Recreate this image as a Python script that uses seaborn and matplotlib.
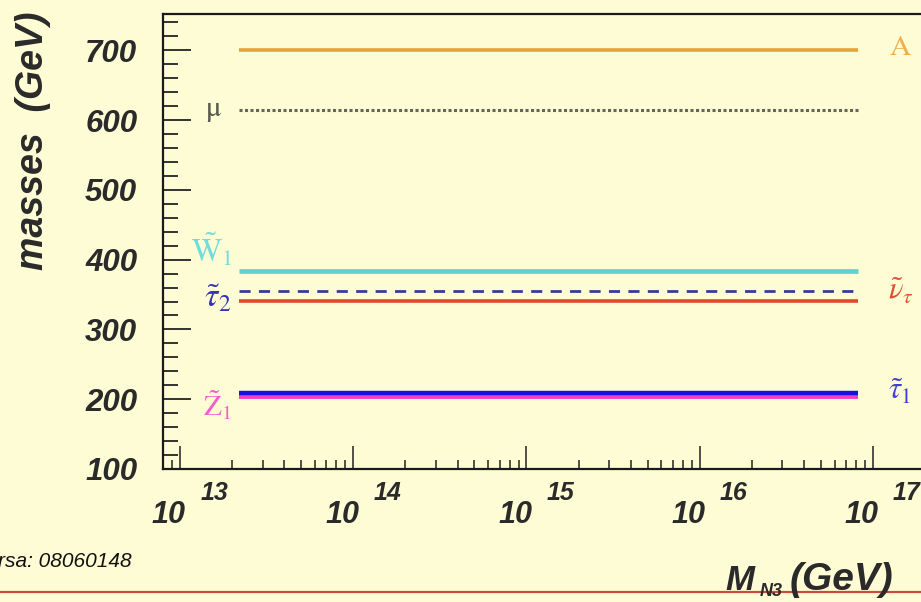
import numpy as np
import pandas as pd
import matplotlib
matplotlib.use("Agg")
import matplotlib.pyplot as plt
import seaborn as sns
from matplotlib.ticker import MultipleLocator, LogLocator, NullFormatter
from matplotlib.lines import Line2D

# ---------------- data ----------------
m_n3 = [2.2e13, 1e14, 1e15, 1e16, 8.2e16]          # M_N3 (GeV)
mass_A = [700, 700, 700, 700, 700]
mass_mu = [614, 614, 614, 614, 614]
mass_W1 = [384, 384, 384, 384, 384]
mass_tau2 = [355, 355, 355, 355, 355]
mass_nutau = [341, 341, 341, 341, 341]
mass_Z1 = [204, 204, 204, 204, 204]
mass_tau1 = [209, 209, 209, 209, 209]
x_decades = [13, 14, 15, 16, 17]
y_ticks = [100, 200, 300, 400, 500, 600, 700]

DPI = 100
W, H = 921, 602
BG = "#fefcd4"

sns.set_theme(style="ticks")
plt.rcParams["mathtext.fontset"] = "stix"
plt.rcParams["font.family"] = ["Liberation Sans", "DejaVu Sans"]

fig = plt.figure(figsize=(W / DPI, H / DPI), dpi=DPI, facecolor=BG)
ax = fig.add_axes([163 / W, (H - 469) / H, (940 - 163) / W, (469 - 14) / H])
ax.set_facecolor(BG)

series = [
    ("mu", mass_mu, dict(color="#66665a", lw=2.2, ls=(0, (1, 0.8)))),
    ("A", mass_A, dict(color="#e8a23a", lw=2.6, ls="-")),
    ("W1", mass_W1, dict(color="#5cd6c8", lw=3.4, ls="-")),
    ("nutau", mass_nutau, dict(color="#e8452c", lw=2.6, ls="-")),
    ("tau2", mass_tau2, dict(color="#3a3a9a", lw=2.0, ls=(0, (4, 3)))),
    ("Z1", mass_Z1, dict(color="#f040c0", lw=4.2, ls="-")),
    ("tau1", mass_tau1, dict(color="#1a10e0", lw=3.2, ls="-")),
]
for name, vals, st in series:
    df = pd.DataFrame({"M": m_n3, "mass": vals})
    sns.lineplot(data=df, x="M", y="mass", ax=ax, color=st["color"],
                 linewidth=st["lw"], linestyle=st["ls"],
                 solid_capstyle="butt", dash_capstyle="butt")

ax.set_xscale("log")
ax.set_xlim(10 ** 12.902, 10 ** 17.387)
ax.set_ylim(100, 752)
ax.set_xlabel("")
ax.set_ylabel("")

# ticks
ax.xaxis.set_major_locator(LogLocator(base=10, numticks=20))
ax.xaxis.set_minor_locator(LogLocator(base=10, subs=np.arange(2, 10), numticks=20))
ax.xaxis.set_major_formatter(NullFormatter())
ax.xaxis.set_minor_formatter(NullFormatter())
ax.set_yticks(y_ticks)
ax.yaxis.set_minor_locator(MultipleLocator(20))
ax.tick_params(axis="x", which="major", direction="in", length=16.5, width=1.1, color="#222222")
ax.tick_params(axis="x", which="minor", direction="in", length=6.5, width=1.1, color="#222222")
ax.tick_params(axis="y", which="major", direction="in", length=20, width=1.3, color="#222222",
               pad=18.5, labelsize=22.5, labelcolor="#2a2a2a")
ax.tick_params(axis="y", which="minor", direction="in", length=10.8, width=1.3, color="#222222")
ax.tick_params(top=False, right=False, which="both")
for lab in ax.get_yticklabels():
    lab.set_fontweight("bold")
    lab.set_fontstyle("italic")

for side in ["left", "bottom", "top"]:
    ax.spines[side].set_color("#1a1a1a")
    ax.spines[side].set_linewidth(1.6)
ax.spines["right"].set_visible(False)

# x tick labels: "10" with a large raised exponent
for e in x_decades:
    ax.annotate("10", xy=(10 ** e, 0), xycoords=("data", "axes fraction"),
                xytext=(-11, -46), textcoords="offset pixels", ha="center", va="center",
                fontsize=22, fontweight="bold", fontstyle="italic", color="#2a2a2a",
                annotation_clip=False)
    ax.annotate(str(e), xy=(10 ** e, 0), xycoords=("data", "axes fraction"),
                xytext=(34, -24), textcoords="offset pixels", ha="center", va="center",
                fontsize=18, fontweight="bold", fontstyle="italic", color="#2a2a2a",
                annotation_clip=False)

# line labels
x0, x1 = m_n3[0], m_n3[-1]
labels = [
    (r"$\mathrm{\mu}$", x0, mass_mu[0], -26, 0, "#5a5a50", 21),
    (r"$\tilde{\mathrm{W}}_{1}$", x0, mass_W1[0], -28, 21, "#70dcdc", 23),
    (r"$\tilde{\tau}_{2}$", x0, mass_tau2[0], -22, -8, "#3434b8", 24),
    (r"$\tilde{\mathrm{Z}}_{1}$", x0, mass_Z1[0], -22, -9, "#f060c8", 21),
    (r"$\mathrm{A}$", x1, mass_A[0], 42, 3, "#eeb048", 21),
    (r"$\tilde{\nu}_{\tau}$", x1, mass_nutau[0], 43, 9, "#e05030", 22),
    (r"$\tilde{\tau}_{1}$", x1, mass_tau1[0], 42, 1, "#4040d0", 22),
]
for txt, xx, yy, dx, dy, col, fs in labels:
    ax.annotate(txt, xy=(xx, yy), xytext=(dx, dy), textcoords="offset pixels",
                ha="center", va="center", color=col, fontsize=fs, annotation_clip=False)

# axis titles
fig.text(33 / W, 1 - 141 / H, "masses  (GeV)", rotation=90, ha="center", va="center",
         fontsize=27, fontweight="bold", fontstyle="italic", color="#2a2a2a")
fig.text(725 / W, 1 - 590 / H, "M", ha="left", va="baseline",
         fontsize=25, fontweight="bold", fontstyle="italic", color="#2a2a2a")
fig.text(760 / W, 1 - 596 / H, "N3", ha="left", va="baseline",
         fontsize=13, fontweight="bold", fontstyle="italic", color="#2a2a2a")
fig.text(790 / W, 1 - 590 / H, "(GeV)", ha="left", va="baseline",
         fontsize=28, fontweight="bold", fontstyle="italic", color="#2a2a2a")

fig.text(132 / W, 1 - 567 / H, "rsa: 08060148", ha="right", va="baseline",
         fontsize=15, fontstyle="italic", color="#111111")

# red rule near the bottom
fig.add_artist(Line2D([0, 1], [1 - 592 / H, 1 - 592 / H], transform=fig.transFigure,
                      color="#c84b3c", lw=1.6))

fig.savefig("out.png", dpi=DPI, facecolor=BG)
